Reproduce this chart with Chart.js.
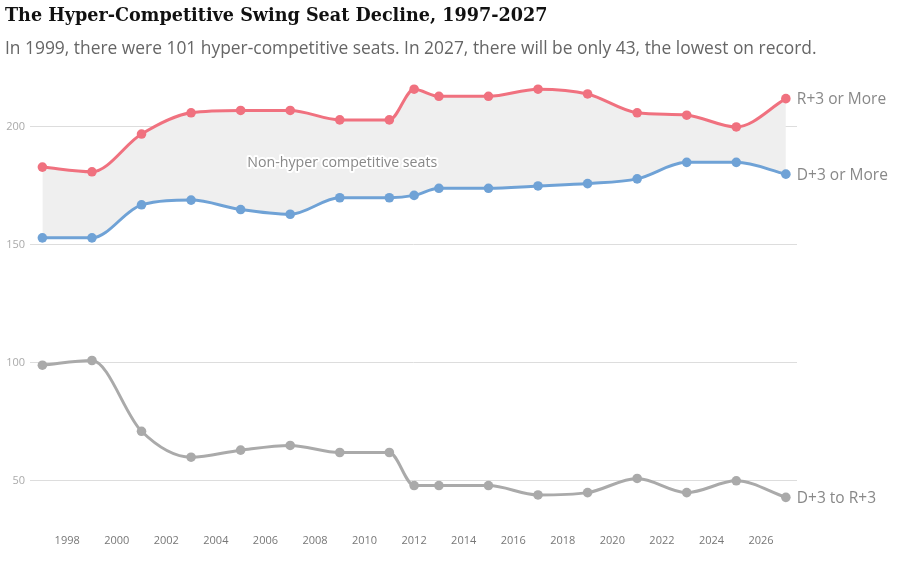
<!DOCTYPE html>
<html>
<head>
<meta charset="utf-8">
<script src="https://cdn.jsdelivr.net/npm/chart.js@4/dist/chart.umd.min.js"></script>
<style>
  body { margin: 0; background: #fff; width: 901px; height: 565px; overflow: hidden; position: relative; }
  #title { position: absolute; left: 5px; top: 4px; font: bold 17.6px "DejaVu Serif", serif; color: #111; white-space: nowrap; }
  #sub { position: absolute; left: 5px; top: 35px; font: 17.4px "Open Sans", sans-serif; color: #666; white-space: nowrap; }
  #wrap { position: absolute; left: 0; top: 0; width: 901px; height: 565px; }
</style>
</head>
<body>
<div id="wrap"><canvas id="chart"></canvas></div>
<div id="title">The Hyper-Competitive Swing Seat Decline, 1997-2027</div>
<div id="sub">In 1999, there were 101 hyper-competitive seats. In 2027, there will be only 43, the lowest on record.</div>
<script>
const years = [1997, 1999, 2001, 2003, 2005, 2007, 2009, 2011, 2012, 2013, 2015, 2017, 2019, 2021, 2023, 2025, 2027];
const rPlus3 = [183, 181, 197, 206, 207, 207, 203, 203, 216, 213, 213, 216, 214, 206, 205, 200, 212];
const dPlus3 = [153, 153, 167, 169, 165, 163, 170, 170, 171, 174, 174, 175, 176, 178, 185, 185, 180];
const swing = [99, 101, 71, 60, 63, 65, 62, 62, 48, 48, 48, 44, 45, 51, 45, 50, 43];
const seriesNames = ['R+3 or More', 'D+3 or More', 'D+3 to R+3'];
const xTicks = [1998, 2000, 2002, 2004, 2006, 2008, 2010, 2012, 2014, 2016, 2018, 2020, 2022, 2024, 2026];
const yTicks = [50, 100, 150, 200];
const bandLabel = 'Non-hyper competitive seats';

const red = '#f0717f', blue = '#6fa2d6', gray = '#aaaaaa';

function pts(vals) {
    return years.map((y, i) => ({ x: y, y: vals[i] }));
}

// labels at the end of each line + the band label
const endLabels = {
    id: 'endLabels',
    afterDatasetsDraw(chart) {
        const ctx = chart.ctx;
        ctx.save();
        ctx.font = '15.5px "Open Sans", sans-serif';
        ctx.fillStyle = '#888';
        ctx.textBaseline = 'middle';
        ctx.textAlign = 'left';
        chart.data.datasets.forEach((ds, i) => {
            const meta = chart.getDatasetMeta(i);
            const last = meta.data[meta.data.length - 1];
            ctx.fillText(seriesNames[i], last.x + 11, last.y + 1);
        });
        const xs = chart.scales.x, ys = chart.scales.y;
        const bx = xs.getPixelForValue(2009.1), by = ys.getPixelForValue(184.6);
        ctx.font = '14.2px "Open Sans", sans-serif';
        ctx.textAlign = 'center';
        ctx.lineWidth = 4;
        ctx.lineJoin = 'round';
        ctx.strokeStyle = '#fff';
        ctx.strokeText(bandLabel, bx, by);
        ctx.fillStyle = '#888';
        ctx.fillText(bandLabel, bx, by);
        ctx.restore();
    }
};

let ctx = document.getElementById('chart').getContext('2d');
let myChart = new Chart(ctx, {
    type: 'line',
    data: {
        datasets: [{
            label: seriesNames[0],
            data: pts(rPlus3),
            borderColor: red,
            pointBackgroundColor: red,
            fill: false
        }, {
            label: seriesNames[1],
            data: pts(dPlus3),
            borderColor: blue,
            backgroundColor: '#efefef',
            pointBackgroundColor: blue,
            fill: 0
        }, {
            label: seriesNames[2],
            data: pts(swing),
            borderColor: gray,
            pointBackgroundColor: gray,
            fill: false
        }]
    },
    options: {
        responsive: true,
        maintainAspectRatio: false,
        animation: false,
        layout: { padding: { top: 68, right: 104, left: 0, bottom: 0 } },
        elements: {
            line: { borderWidth: 3, cubicInterpolationMode: 'monotone' },
            point: { radius: 4.8, borderWidth: 0, hoverRadius: 5 }
        },
        plugins: {
            legend: { display: false },
            tooltip: { enabled: false }
        },
        scales: {
            x: {
                type: 'linear',
                min: 1996.5,
                max: 2027.45,
                afterBuildTicks: s => { s.ticks = xTicks.map(v => ({ value: v })); },
                afterFit: s => { s.height = 37; },
                grid: { display: false, drawTicks: false },
                border: { display: false },
                ticks: {
                    padding: 6,
                    color: '#777',
                    font: { family: 'Open Sans', size: 11 },
                    maxRotation: 0,
                    autoSkip: false,
                    callback: v => String(v)
                }
            },
            y: {
                min: 30,
                max: 225,
                afterBuildTicks: s => { s.ticks = yTicks.map(v => ({ value: v })); },
                afterFit: s => { s.width = 30; },
                grid: { color: '#dddddd', lineWidth: 1, drawTicks: false },
                border: { display: false },
                ticks: {
                    padding: 5,
                    color: '#aaa',
                    font: { family: 'Open Sans', size: 11 }
                }
            }
        }
    },
    plugins: [endLabels]
});
</script>
</body>
</html>
